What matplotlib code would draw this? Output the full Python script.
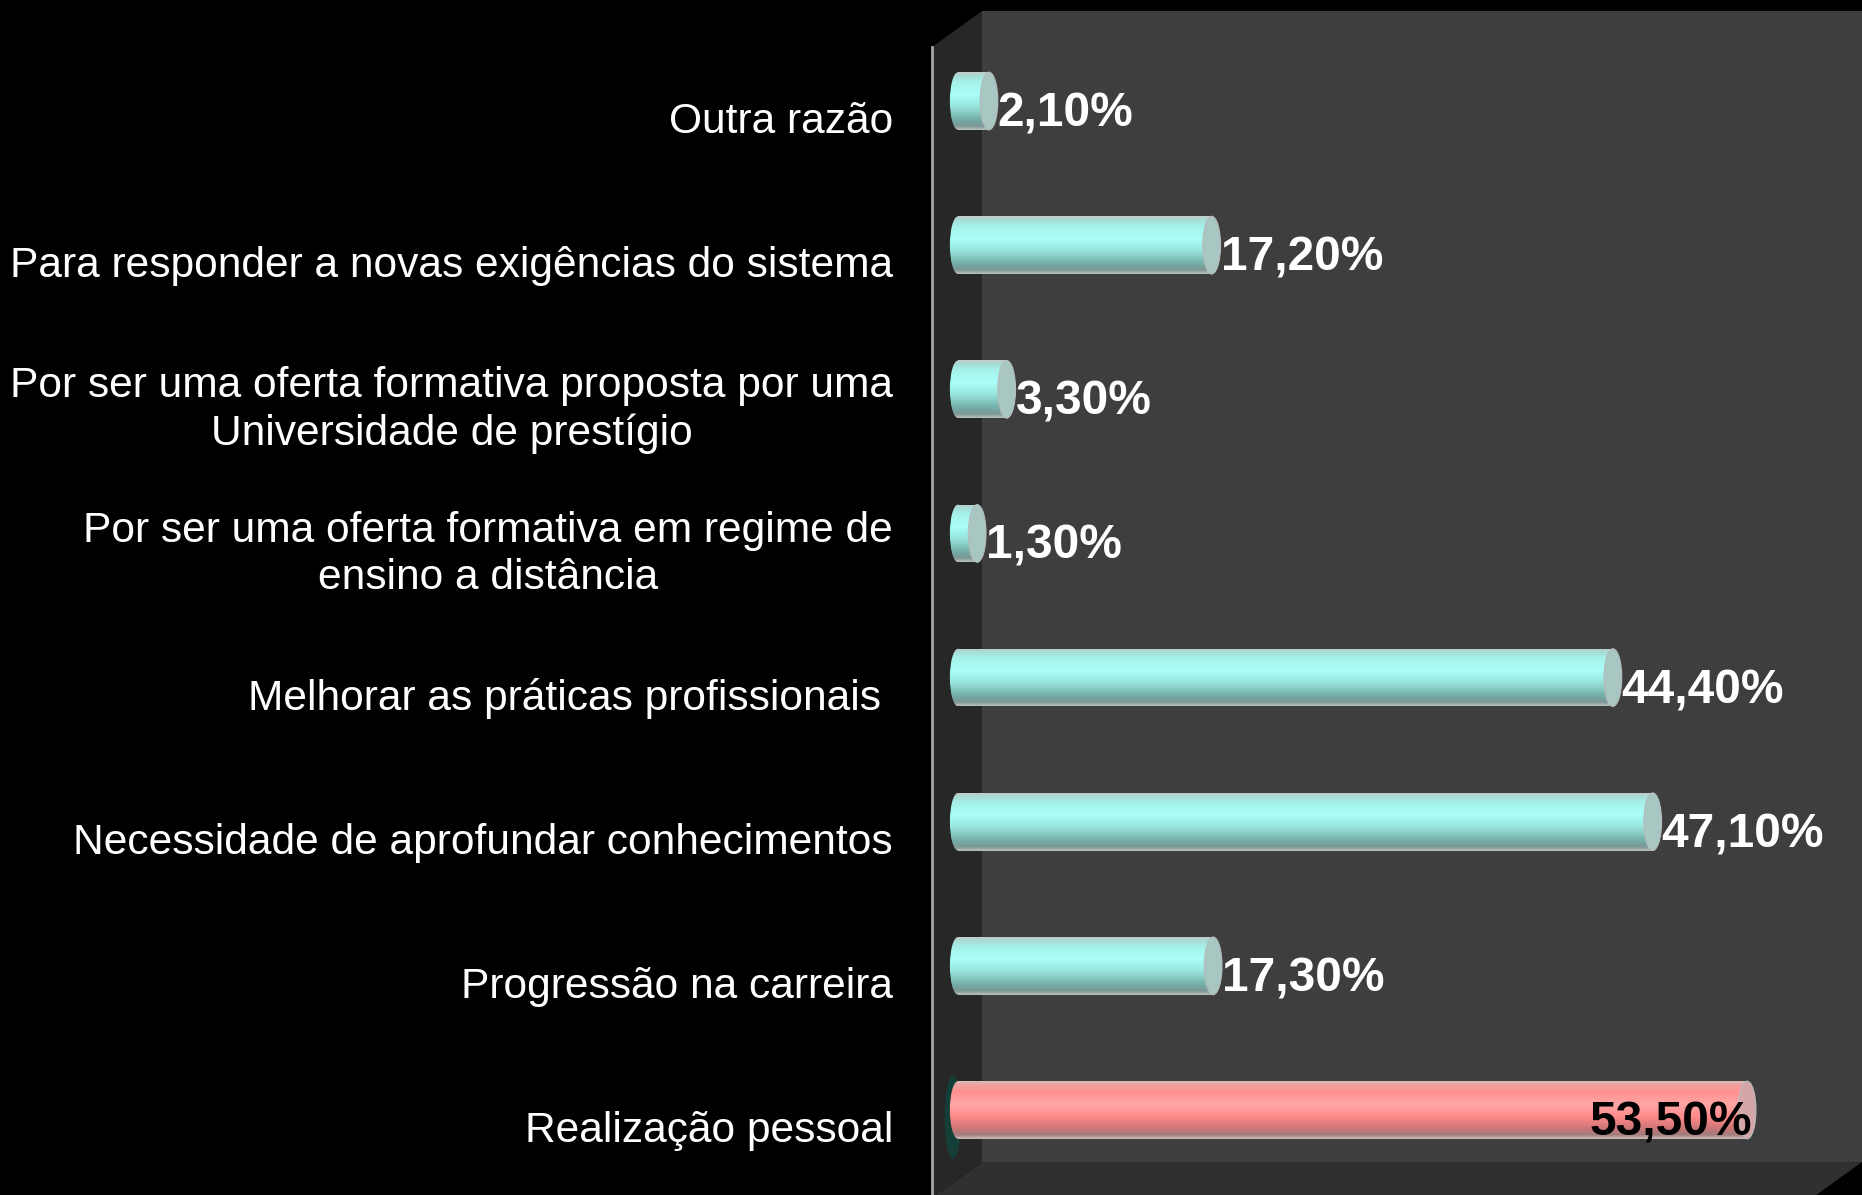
import numpy as np
import matplotlib.pyplot as plt
from matplotlib.patches import Polygon, Ellipse
from matplotlib.colors import LinearSegmentedColormap

plt.rcParams['font.family'] = ['Liberation Sans', 'DejaVu Sans']

# Razões para frequentar a formação (% de respostas), de baixo para cima
categorias = [
    'Realização pessoal',
    'Progressão na carreira',
    'Necessidade de aprofundar conhecimentos',
    'Melhorar as práticas profissionais ',
    'Por ser uma oferta formativa em regime de\nensino a distância',
    'Por ser uma oferta formativa proposta por uma\nUniversidade de prestígio',
    'Para responder a novas exigências do sistema',
    'Outra razão',
]
valores = [53.5, 17.3, 47.1, 44.4, 1.3, 3.3, 17.2, 2.1]
rotulos = ['53,50%', '17,30%', '47,10%', '44,40%', '1,30%', '3,30%', '17,20%', '2,10%']
destaque = 0  # barra em vermelho

W, H = 1862, 1195
fig = plt.figure(figsize=(W / 100, H / 100), dpi=100, facecolor='black')


def fp(x, y):
    # pixel (origem no canto superior esquerdo) -> fração da figura
    return (x / W, 1 - y / H)


# paredes e chão do gráfico 3D
parede_fundo = Polygon([fp(982, 11), fp(W, 11), fp(W, 1162), fp(982, 1162)],
                       closed=True, transform=fig.transFigure, fc='#3e3e3e', ec='none')
parede_lado = Polygon([fp(932, 47), fp(982, 11), fp(982, 1162), fp(932, 1198)],
                      closed=True, transform=fig.transFigure, fc='#272727', ec='none')
chao = Polygon([fp(982, 1162), fp(W, 1162), fp(1812, 1198), fp(932, 1198)],
               closed=True, transform=fig.transFigure, fc='#303030', ec='none')
for p in (parede_fundo, parede_lado, chao):
    p.set_zorder(-2)
    fig.patches.append(p)
fig.add_artist(plt.Line2D([932 / W, 932 / W], [0, 1 - 47 / H], transform=fig.transFigure,
                          color='#a6a6a6', lw=2, zorder=-1))

ax = fig.add_axes([0, 0, 1, 1])
ax.set_zorder(2)
ax.patch.set_visible(False)
escala = 14.75      # px por ponto percentual
x0_px = 958
passo = 144.14      # px entre categorias
ax.axis('off')

ciano = LinearSegmentedColormap.from_list('ciano', [
    (0.00, '#c4cccb'), (0.05, '#a9d9d3'), (0.15, '#a4efe8'), (0.38, '#a9fff9'),
    (0.60, '#97e3dc'), (0.82, '#74aea8'), (0.93, '#7c9794'), (1.00, '#b8bfbe')])
rosa = LinearSegmentedColormap.from_list('rosa', [
    (0.00, '#d6c0c0'), (0.05, '#eea2a2'), (0.18, '#ff9090'), (0.40, '#ffa6a6'),
    (0.62, '#ff8a8a'), (0.82, '#cc7676'), (0.93, '#a27c7c'), (1.00, '#c8bcbc')])

grad = np.linspace(0, 1, 200).reshape(-1, 1)
alt = 0.40
y = np.arange(len(categorias))

barras = ax.barh(y, valores, height=alt, color='none', zorder=3)

for i, (b, v) in enumerate(zip(barras, valores)):
    cmap = rosa if i == destaque else ciano
    face = '#d4a6a8' if i == destaque else '#a8c6c2'
    if i == destaque:
        sombra = Ellipse((-0.35, i - 0.05), 1.1, alt * 1.45, fc='#10463e', ec='none',
                         alpha=0.8, zorder=2)
        ax.add_patch(sombra)
    # extremidade esquerda arredondada
    ponta = Ellipse((0, i), 1.1, alt, fc='none', ec='none', zorder=3)
    ax.add_patch(ponta)
    im = ax.imshow(grad, cmap=cmap, aspect='auto', extent=(-0.6, 0.1, i - alt / 2, i + alt / 2),
                   zorder=3, interpolation='bilinear')
    im.set_clip_path(ponta)
    # corpo do cilindro
    im = ax.imshow(grad, cmap=cmap, aspect='auto', extent=(0, v, i - alt / 2, i + alt / 2),
                   zorder=3, interpolation='bilinear')
    im.set_clip_path(b)
    # face final do cilindro
    ax.add_patch(Ellipse((v, i), 1.2, alt, fc=face, ec='#b5bcbb', lw=0.8, zorder=4))

ax.set_xlim(-x0_px / escala, (W - x0_px) / escala)
ax.set_ylim(-85 / passo, (H - 85) / passo)

# rótulos de valor
for i, (v, r) in enumerate(zip(valores, rotulos)):
    if i == destaque:
        ax.text(v + 0.3, i - 0.09, r, ha='right', va='center', color='black',
                fontsize=34.5, fontweight='bold', zorder=5)
    else:
        ax.text(v + 0.6, i - 0.09, r, ha='left', va='center', color='white',
                fontsize=34.5, fontweight='bold', zorder=5)

# rótulos das categorias
x_cat = (893 - x0_px) / escala
for i, c in enumerate(categorias):
    ax.text(x_cat, i - 0.145, c, ha='right', va='center', multialignment='center',
            color='white', fontsize=30.6, linespacing=1.22)

fig.savefig('out.png', dpi=100, facecolor='black')
